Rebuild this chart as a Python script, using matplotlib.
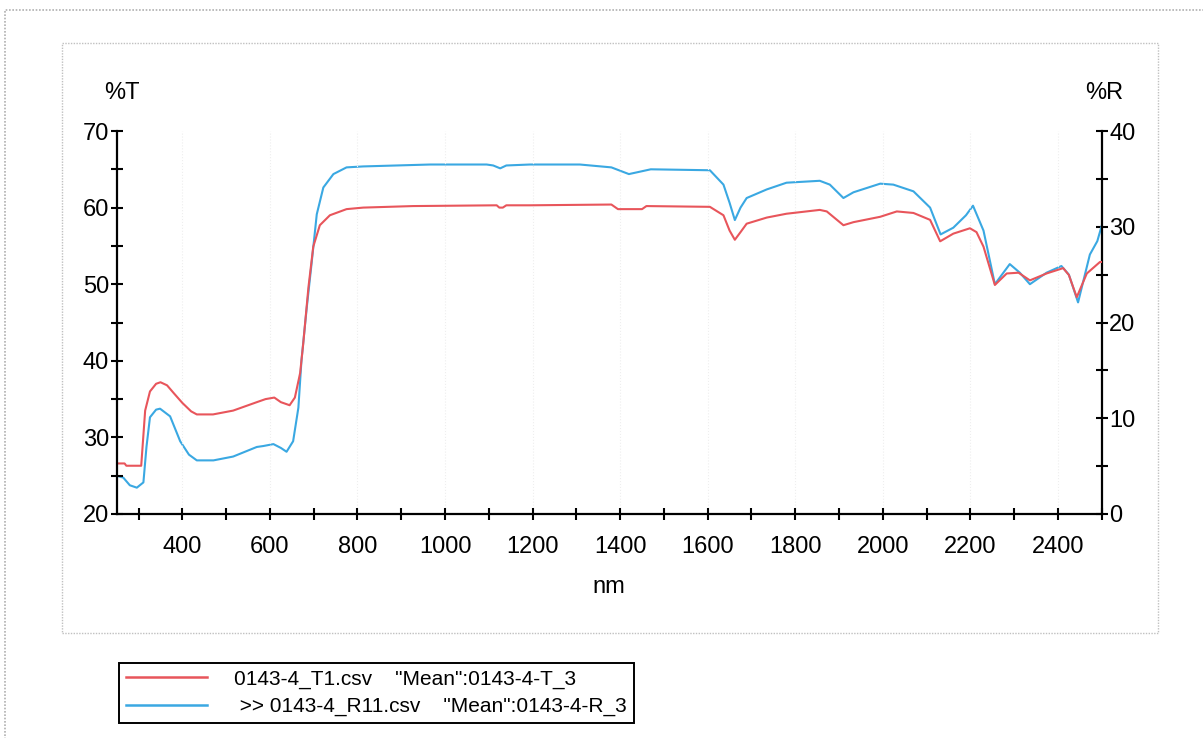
import numpy as np
import matplotlib
matplotlib.use("Agg")
import matplotlib.pyplot as plt
from matplotlib.patches import Rectangle
from matplotlib.lines import Line2D

plt.rcParams['font.family'] = ['Liberation Sans', 'DejaVu Sans']

# ------------------------------------------------------------------
# Data (nm, %T) and (nm, %R)
# ------------------------------------------------------------------
wl_T = [250, 268, 272, 306, 315, 326, 340, 350, 365, 380, 400, 420, 433, 470,
        516, 570, 590, 610, 625, 645, 657, 669, 676, 688, 699, 714, 737, 775,
        813, 927, 1118, 1124, 1132, 1140, 1194, 1380, 1395, 1450, 1460, 1605,
        1636, 1650, 1662, 1675, 1689, 1735, 1780, 1856, 1872, 1910, 1933, 1994,
        2032, 2070, 2108, 2131, 2161, 2199, 2214, 2230, 2256, 2283, 2310, 2336,
        2374, 2412, 2425, 2443, 2466, 2496, 2500]
T_vals = [26.6, 26.6, 26.3, 26.3, 33.5, 36.0, 37.0, 37.2, 36.8, 35.8, 34.5, 33.4,
          33.0, 33.0, 33.5, 34.6, 35.0, 35.2, 34.6, 34.2, 35.2, 38.4, 42.2, 49.6,
          54.9, 57.7, 59.0, 59.8, 60.0, 60.2, 60.3, 60.0, 60.0, 60.3, 60.3, 60.4,
          59.8, 59.8, 60.2, 60.1, 59.0, 57.0, 55.8, 56.8, 57.9, 58.7, 59.2, 59.7,
          59.5, 57.7, 58.1, 58.8, 59.5, 59.3, 58.4, 55.6, 56.6, 57.3, 56.8, 54.9,
          49.9, 51.4, 51.5, 50.5, 51.4, 52.1, 51.2, 48.3, 51.4, 52.9, 52.9]

wl_R = [250, 265, 280, 296, 311, 318, 326, 340, 349, 372, 395, 415, 433, 471,
        516, 570, 585, 608, 625, 638, 653, 665, 672, 684, 695, 707, 722, 745,
        775, 813, 966, 1095, 1110, 1126, 1140, 1194, 1308, 1380, 1420, 1450,
        1470, 1605, 1636, 1650, 1662, 1675, 1689, 1735, 1780, 1856, 1879, 1910,
        1933, 1994, 2024, 2070, 2108, 2132, 2161, 2190, 2206, 2230, 2256, 2290,
        2313, 2336, 2374, 2408, 2425, 2446, 2473, 2490, 2500]
R_vals = [4.0, 3.8, 3.0, 2.75, 3.3, 7.0, 10.1, 10.9, 11.0, 10.2, 7.6, 6.2, 5.6,
          5.6, 6.0, 7.0, 7.1, 7.3, 6.9, 6.5, 7.6, 11.1, 16.0, 21.5, 26.1, 31.3,
          34.1, 35.5, 36.2, 36.3, 36.5, 36.5, 36.4, 36.1, 36.4, 36.5, 36.5, 36.2,
          35.5, 35.8, 36.0, 35.9, 34.4, 32.5, 30.7, 32.0, 33.0, 33.9, 34.6, 34.8,
          34.4, 33.0, 33.6, 34.5, 34.4, 33.7, 32.0, 29.2, 29.9, 31.2, 32.2, 29.6,
          24.0, 26.1, 25.2, 24.0, 25.2, 25.9, 25.0, 22.1, 27.1, 28.5, 30.1]

label_T = '0143-4_T1.csv    "Mean":0143-4-T_3'
label_R = ' >> 0143-4_R11.csv    "Mean":0143-4-R_3'

red = '#e8555b'
blue = '#3aa8e2'

# ------------------------------------------------------------------
fig = plt.figure(figsize=(12.03, 7.38), dpi=100)

# grey page frames
fig.add_artist(Rectangle((5 / 1203, -0.1), 1.2, 1 - 10 / 738 + 0.1, transform=fig.transFigure,
                         fill=False, ec='#b0b0b0', lw=1.2, ls=(0, (1, 1))))
fig.add_artist(Rectangle((62 / 1203, 1 - 633 / 738), (1158 - 62) / 1203, (633 - 43) / 738,
                         transform=fig.transFigure, fill=False, ec='#c0c0c0', lw=1.0,
                         ls=(0, (1, 1))))

ax = fig.add_axes([116.7 / 1203, 1 - 514 / 738, (1101.7 - 116.7) / 1203, (514 - 131) / 738])
ax2 = ax.twinx()

ax.plot(wl_T, T_vals, color=red, lw=1.5)
ax2.plot(wl_R, R_vals, color=blue, lw=1.5)
ax.set_zorder(ax2.get_zorder() + 1)
ax.patch.set_visible(False)

ax.set_xlim(250, 2500)
ax.set_ylim(20, 70)
ax2.set_ylim(0, 40)

ax.set_xticks(np.arange(400, 2401, 200))
ax.set_xticks(np.arange(300, 2501, 100), minor=True)
ax.set_yticks(np.arange(20, 71, 10))
ax.set_yticks(np.arange(25, 70, 5), minor=True)
ax2.set_yticks(np.arange(0, 41, 10))
ax2.set_yticks(np.arange(5, 40, 10), minor=True)

for a in (ax, ax2):
    for s in a.spines.values():
        s.set_linewidth(1.6)
    a.spines['top'].set_visible(False)
    a.tick_params(which='both', direction='inout', length=9, width=1.5,
                  labelsize=17, pad=1)
ax.tick_params(axis='x', which='both', pad=11)
ax.spines['right'].set_visible(False)
ax2.spines['left'].set_visible(False)
ax2.spines['bottom'].set_visible(False)

ax.grid(axis='x', which='major', color='#eeeeee', lw=0.8, ls=':')

ax.set_xlabel('nm', fontsize=17, labelpad=13)
ax.text(0.005, 1.1, '%T', transform=ax.transAxes, fontsize=17, ha='center', va='center')
ax2.text(1.003, 1.1, '%R', transform=ax2.transAxes, fontsize=17, ha='center', va='center')

# legend box
handles = [Line2D([], [], color=red, lw=1.8), Line2D([], [], color=blue, lw=1.8)]
leg = fig.legend(handles, [label_T, label_R], loc='upper left',
                 bbox_to_anchor=(119.5 / 1203, 1 - 663 / 738), fontsize=15,
                 frameon=True, fancybox=False, edgecolor='black', framealpha=1,
                 handlelength=3.9, handletextpad=1.3, borderpad=0.32,
                 labelspacing=0.38, borderaxespad=0)
leg.get_frame().set_linewidth(1.4)

fig.savefig('out.png', dpi=100)
